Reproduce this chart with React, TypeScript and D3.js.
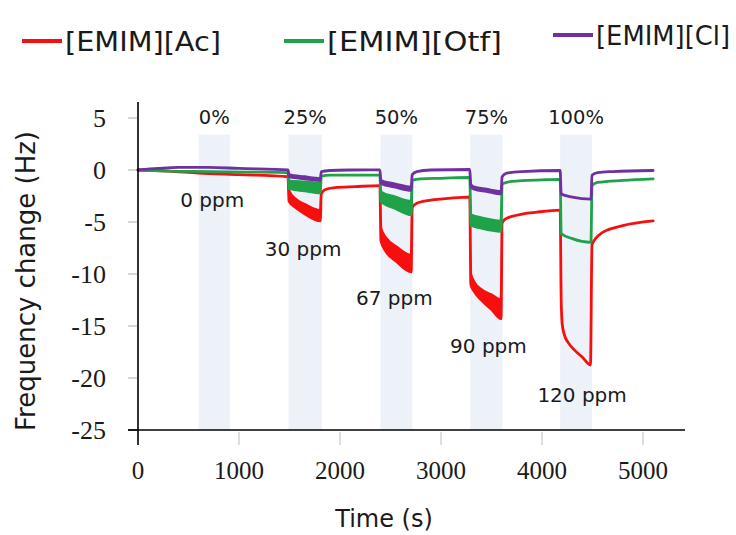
import React from "react";
import * as d3 from "d3";

// ---- data ----
const timeTicks = [0, 1000, 2000, 3000, 4000, 5000];
const freqTicks = [5, 0, -5, -10, -15, -20, -25];

const concLabels = ["0%", "25%", "50%", "75%", "100%"];
const ppmLabels = ["0 ppm", "30 ppm", "67 ppm", "90 ppm", "120 ppm"];
const bandStart = [600, 1490, 2400, 3290, 4180];
const bandEnd = [910, 1820, 2715, 3610, 4495];

const seriesNames = ["[EMIM][Ac]", "[EMIM][Otf]", "[EMIM][Cl]"];

// [time (s), upper envelope (Hz), lower envelope (Hz)]
const acTrace: number[][] = [
  [0, 0, 0], [300, -0.1, -0.1], [600, -0.3, -0.3], [1000, -0.45, -0.45], [1485, -0.65, -0.65],
  [1495, -2.0, -3.0], [1560, -2.8, -3.6], [1650, -3.3, -4.2], [1805, -3.9, -4.9],
  [1815, -2.3, -2.3], [1850, -1.9, -1.9], [1950, -1.7, -1.7], [2150, -1.6, -1.6], [2395, -1.5, -1.5],
  [2405, -5.6, -6.8], [2460, -6.6, -7.9], [2560, -7.4, -8.8], [2705, -8.2, -9.8],
  [2715, -3.6, -3.6], [2760, -3.2, -3.2], [2900, -2.9, -2.9], [3100, -2.7, -2.7], [3285, -2.6, -2.6],
  [3295, -10.0, -11.0], [3330, -10.8, -11.7], [3400, -11.5, -12.5], [3500, -12.0, -13.4], [3595, -12.5, -14.3],
  [3605, -5.1, -5.1], [3640, -4.7, -4.7], [3750, -4.35, -4.35], [3950, -4.05, -4.05], [4180, -3.85, -3.85],
  [4190, -12.5, -12.5], [4200, -14.8, -14.8], [4220, -15.8, -15.8], [4260, -16.6, -16.6], [4320, -17.3, -17.3],
  [4400, -18.0, -18.0], [4480, -18.75, -18.75],
  [4495, -7.2, -7.2], [4530, -6.6, -6.6], [4600, -6.0, -6.0], [4800, -5.35, -5.35], [5100, -4.9, -4.9],
];

const otfTrace: number[][] = [
  [0, 0, 0], [300, -0.1, -0.1], [700, -0.15, -0.15], [1100, -0.2, -0.2], [1485, -0.25, -0.25],
  [1495, -1.05, -1.8], [1650, -1.15, -2.0], [1805, -1.25, -2.2],
  [1815, -0.6, -0.6], [1900, -0.5, -0.5], [2395, -0.5, -0.5],
  [2405, -2.1, -3.0], [2550, -2.6, -3.7], [2705, -3.0, -4.3],
  [2715, -1.0, -1.0], [2800, -0.85, -0.85], [3000, -0.8, -0.8], [3285, -0.72, -0.72],
  [3295, -4.3, -5.3], [3400, -4.6, -5.6], [3595, -4.9, -5.9],
  [3605, -1.35, -1.35], [3700, -1.1, -1.1], [4000, -0.95, -0.95], [4180, -0.9, -0.9],
  [4190, -6.1, -6.1], [4300, -6.6, -6.6], [4485, -6.95, -6.95],
  [4495, -1.5, -1.5], [4550, -1.2, -1.2], [4800, -1.0, -1.0], [5100, -0.85, -0.85],
];

const clTrace: number[][] = [
  [0, 0, 0], [200, 0.15, 0.15], [400, 0.25, 0.25], [700, 0.25, 0.25], [1000, 0.15, 0.15], [1485, 0.02, 0.02],
  [1495, -0.45, -0.65], [1650, -0.65, -0.85], [1805, -0.8, -1.0],
  [1815, -0.15, -0.15], [1900, -0.05, -0.05], [2100, 0, 0], [2395, 0.02, 0.02],
  [2405, -1.0, -1.3], [2550, -1.35, -1.65], [2705, -1.65, -1.95],
  [2715, -0.45, -0.45], [2760, -0.15, -0.15], [2900, 0, 0], [3285, 0.05, 0.05],
  [3295, -1.4, -1.6], [3330, -1.65, -1.85], [3450, -1.85, -2.05], [3595, -2.05, -2.3],
  [3605, -0.65, -0.65], [3650, -0.3, -0.3], [3800, -0.15, -0.15], [4180, -0.05, -0.05],
  [4190, -2.3, -2.3], [4300, -2.6, -2.6], [4485, -2.8, -2.8],
  [4495, -0.5, -0.5], [4550, -0.25, -0.25], [4700, -0.15, -0.15], [5100, -0.05, -0.05],
];

const traces = [acTrace, otfTrace, clTrace];
const colors = ["#f70f0f", "#1fa24a", "#7030a0"];

const SANS = "DejaVu Sans, sans-serif";
const SERIF = "Liberation Serif, Times New Roman, serif";

export default function App() {
  const W = 736;
  const H = 535;
  const x = d3.scaleLinear().domain([0, 5000]).range([138, 643]);
  const y = d3.scaleLinear().domain([-25, 0]).range([430, 170]);
  const xMax = 5416;
  const yTop = 6.55;

  const area = d3
    .area<number[]>()
    .x((d) => x(d[0]))
    .y0((d) => y(d[2]))
    .y1((d) => y(d[1]))
    .curve(d3.curveMonotoneX);

  const legendX = [22, 284, 553];
  const legendY = [41, 41, 35];
  const legendTextW = [156, 175, 134];

  return (
    <svg
      width={W}
      height={H}
      viewBox={`0 0 ${W} ${H}`}
      style={{ position: "absolute", left: 0, top: 0, background: "#fff" }}
    >
      <rect x={0} y={0} width={W} height={H} fill="#fff" />
      {/* exposure bands */}
      {bandStart.map((s, i) => (
        <rect
          key={"b" + i}
          x={x(s)}
          y={y(3.4)}
          width={x(bandEnd[i]) - x(s)}
          height={y(-25) - y(3.4)}
          fill="#edf2f9"
        />
      ))}
      {/* y ticks */}
      {freqTicks.map((t) => (
        <g key={"yt" + t}>
          <line x1={128} x2={137} y1={y(t)} y2={y(t)} stroke={t === -25 ? "#000" : "#bbb"} strokeWidth={1.2} />
          <text
            x={106}
            y={y(t)}
            dy="0.35em"
            textAnchor="end"
            style={{ fontFamily: SERIF, fontSize: 26 }}
            fill="#1a1a1a"
          >
            {t}
          </text>
        </g>
      ))}
      {/* x ticks */}
      {timeTicks.map((t) => (
        <g key={"xt" + t}>
          {t > 0 && (
            <line x1={x(t)} x2={x(t)} y1={432} y2={445} stroke="#c8c8c8" strokeWidth={1.2} />
          )}
          <text x={x(t)} y={479} textAnchor="middle" style={{ fontFamily: SERIF, fontSize: 25 }} fill="#1a1a1a">
            {t}
          </text>
        </g>
      ))}
      {/* traces */}
      {traces.map((tr, i) => (
        <path
          key={"s" + i}
          d={area(tr) || ""}
          fill={colors[i]}
          stroke={colors[i]}
          strokeWidth={2.8}
          strokeLinejoin="round"
        />
      ))}
      {/* axes */}
      <line x1={x(0)} x2={x(0)} y1={y(yTop)} y2={445} stroke="#000" strokeWidth={1.6} />
      <line x1={128} x2={x(xMax)} y1={y(-25)} y2={y(-25)} stroke="#000" strokeWidth={1.6} />
      {/* concentration labels */}
      {concLabels.map((c, i) => (
        <text
          key={"c" + i}
          x={x((bandStart[i] + bandEnd[i]) / 2)}
          y={124}
          textAnchor="middle"
          style={{ fontFamily: SANS, fontSize: 19.5 }}
          fill="#1a1a1a"
        >
          {c}
        </text>
      ))}
      {ppmLabels.map((c, i) => (
        <text
          key={"p" + i}
          x={x((bandStart[i] + bandEnd[i]) / 2) + [-2, -2, -2, 2, 6][i]}
          y={207 + i * 48.8}
          textAnchor="middle"
          style={{ fontFamily: SANS, fontSize: 20 }}
          fill="#1a1a1a"
        >
          {c}
        </text>
      ))}
      {/* axis titles */}
      <text
        transform={`translate(35,281) rotate(-90)`}
        textAnchor="middle"
        style={{ fontFamily: SANS, fontSize: 26 }}
        fill="#1a1a1a"
      >
        Frequency change (Hz)
      </text>
      <text x={384} y={527} textAnchor="middle" style={{ fontFamily: SANS, fontSize: 24 }} fill="#1a1a1a">
        Time (s)
      </text>
      {/* legend */}
      {seriesNames.map((n, i) => (
        <g key={"l" + i}>
          <line
            x1={legendX[i]}
            x2={legendX[i] + 40}
            y1={legendY[i]}
            y2={legendY[i]}
            stroke={colors[i]}
            strokeWidth={4}
          />
          <text
            x={legendX[i] + 43}
            y={legendY[i]}
            dy="0.36em"
            textLength={legendTextW[i]}
            lengthAdjust="spacingAndGlyphs"
            style={{ fontFamily: SANS, fontSize: 27 }}
            fill="#1a1a1a"
          >
            {n}
          </text>
        </g>
      ))}
    </svg>
  );
}
